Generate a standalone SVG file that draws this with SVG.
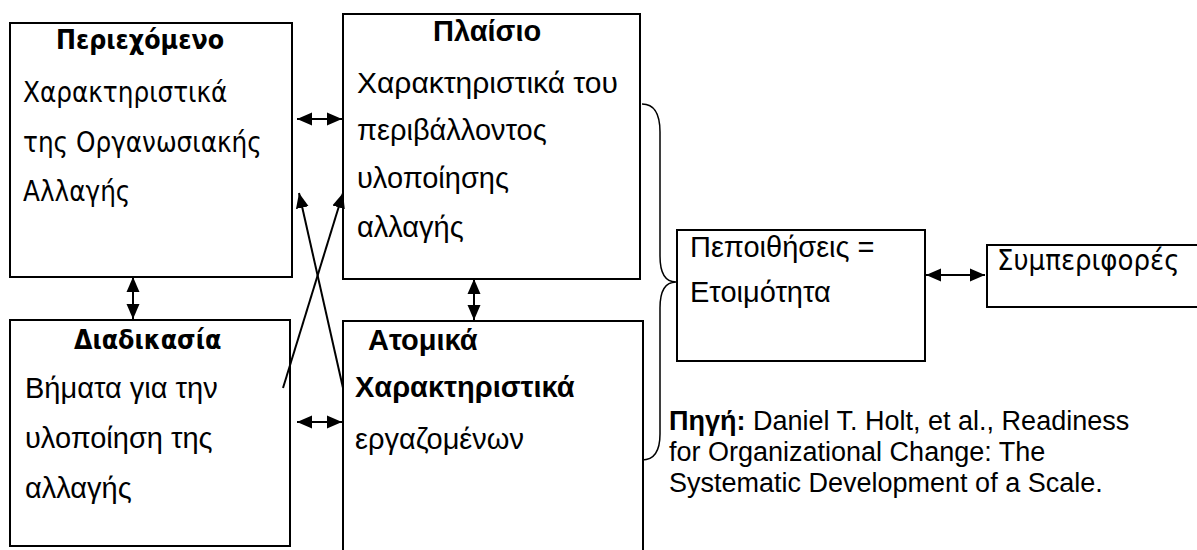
<svg xmlns="http://www.w3.org/2000/svg" width="1197" height="550" viewBox="0 0 1197 550">
<style>
.box{fill:#fff;stroke:#000;stroke-width:2}
.t{font-family:"Liberation Sans",Arial,sans-serif;font-size:29px;fill:#000}
.h{font-family:"DejaVu Sans Condensed","DejaVu Sans",sans-serif;font-size:27.5px;fill:#000}
.hb{font-family:"DejaVu Sans Condensed","DejaVu Sans",sans-serif;font-size:26.5px;font-weight:bold;fill:#000}
.b{font-weight:bold}
.src{font-family:"Liberation Sans",Arial,sans-serif;font-size:27px;fill:#000}
.ln{stroke:#000;stroke-width:2;fill:none}
.br{stroke:#000;stroke-width:1.5;fill:none}
</style>
<defs>
<marker id="ah" markerUnits="userSpaceOnUse" markerWidth="15" markerHeight="14" refX="15" refY="7" orient="auto-start-reverse">
<path d="M0,0.5 L15,7 L0,13.5 z" fill="#000"/>
</marker>
</defs>
<rect width="1197" height="550" fill="#fff"/>
<g id="periexomeno">
<rect class="box" x="10" y="23" width="282" height="254"/>
<text class="hb" x="56" y="49">Περιεχόμενο</text>
<text class="h" x="23" y="102">Χαρακτηριστικά</text>
<text class="h" x="23" y="152">της Οργανωσιακής</text>
<text class="h" x="23" y="201">Αλλαγής</text>
</g>
<g id="plaisio">
<rect class="box" x="343" y="14" width="297" height="265"/>
<text class="t b" x="433" y="41">Πλαίσιο</text>
<text class="t" x="357" y="93" style="font-size:30px">Χαρακτηριστικά του</text>
<text class="t" x="357" y="140">περιβάλλοντος</text>
<text class="t" x="357" y="188">υλοποίησης</text>
<text class="t" x="357" y="237">αλλαγής</text>
</g>
<g id="diadikasia">
<rect class="box" x="10" y="320" width="280" height="226"/>
<text class="hb" x="74" y="349">Διαδικασία</text>
<text class="t" x="25" y="398">Βήματα για την</text>
<text class="t" x="25" y="448">υλοποίηση της</text>
<text class="t" x="25" y="498">αλλαγής</text>
</g>
<g id="atomika">
<rect class="box" x="343" y="321" width="300" height="260"/>
<text class="t b" x="368" y="350">Ατομικά</text>
<text class="t b" x="355" y="397">Χαρακτηριστικά</text>
<text class="t" x="355" y="449">εργαζομένων</text>
</g>
<g id="pepoithiseis">
<rect class="box" x="677" y="230" width="248" height="131"/>
<text class="t" x="690" y="257">Πεποιθήσεις =</text>
<text class="t" x="690" y="302">Ετοιμότητα</text>
</g>
<g id="symperifores">
<rect class="box" x="987" y="245" width="230" height="62"/>
<text class="h" x="997" y="270" style="font-size:29px">Συμπεριφορές</text>
</g>
<g id="source">
<text class="src" x="669" y="430"><tspan class="b">Πηγή:</tspan> Daniel T. Holt, et al., Readiness</text>
<text class="src" x="669" y="461">for Organizational Change: The</text>
<text class="src" x="669" y="492">Systematic Development of a Scale.</text>
</g>
<g id="connectors">
<line class="ln" x1="297" y1="119" x2="342" y2="119" marker-start="url(#ah)" marker-end="url(#ah)"/>
<line class="ln" x1="133" y1="277" x2="133" y2="319" marker-start="url(#ah)" marker-end="url(#ah)"/>
<line class="ln" x1="474" y1="279" x2="474" y2="320" marker-start="url(#ah)" marker-end="url(#ah)"/>
<line class="ln" x1="297" y1="422" x2="342" y2="422" marker-start="url(#ah)" marker-end="url(#ah)"/>
<line class="ln" x1="926" y1="275" x2="985" y2="275" marker-start="url(#ah)" marker-end="url(#ah)"/>
<line class="ln" x1="343" y1="388" x2="299" y2="193" marker-end="url(#ah)"/>
<line class="ln" x1="283" y1="388" x2="343" y2="193" marker-end="url(#ah)"/>
<path class="br" d="M642,104 Q660,104 660,132 L660,256 Q660,282 676,282 Q660,282 660,308 L660,434 Q660,460 642,460"/>
</g>
</svg>
